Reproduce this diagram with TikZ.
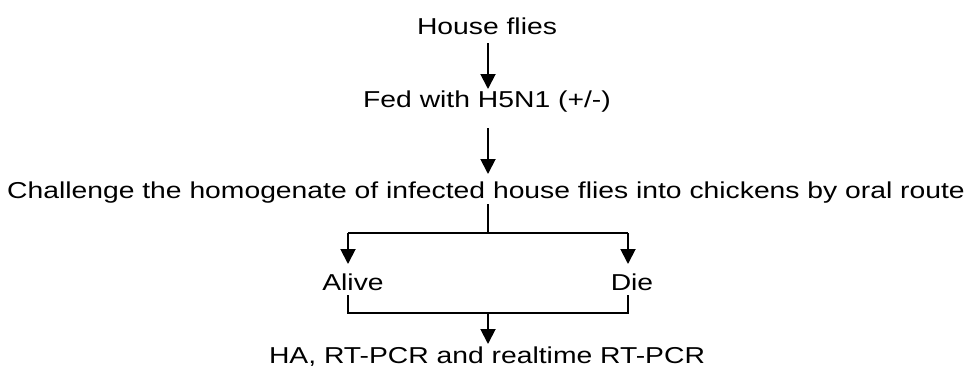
\documentclass[tikz,border=0pt]{standalone}
\usepackage{fontspec}
\setmainfont{Liberation Sans}
\usetikzlibrary{arrows.meta}
\tikzset{
	lbl/.style={inner sep=0pt, xscale=1.23, transform shape, font=\fontsize{23}{27}\selectfont},
	arr/.style={line width=1.9pt, -{Triangle[width=15pt,length=15pt]}},
	ln/.style={line width=1.9pt}
}
\begin{document}
\begin{tikzpicture}[x=1pt,y=-1pt]
	\useasboundingbox (0,0) rectangle (970,381);

	\node[lbl] (flies) at (487,26) {House flies};
	\node[lbl] (fed) at (487,102) {Fed with H5N1 (+/-)};
	\node[lbl] (chal) at (486,193) {Challenge the homogenate of infected house flies into chickens by oral route};
	\node[lbl] (alive) at (353,282) {Alive};
	\node[lbl] (die) at (632,282) {Die};
	\node[lbl] (test) at (487,357) {HA, RT-PCR and realtime RT-PCR};

	% Verzweigung
	\coordinate (split) at (488,233);
	\coordinate (splitL) at (348,233);
	\coordinate (splitR) at (628,233);
	\coordinate (aL) at (348,264);
	\coordinate (aR) at (628,264);
	\coordinate (jL) at (348,295);
	\coordinate (jR) at (628,295);
	\coordinate (joinL) at (348,313);
	\coordinate (joinR) at (628,313);
	\coordinate (join) at (488,313);
	\coordinate (end) at (488,344);

	\draw[arr] (488,43) -- (488,89);
	\draw[arr] (488,128) -- (488,174);
	\draw[ln] (488,204) -- (split);
	\draw[ln] (splitL) -- (splitR);
	\draw[arr] (splitL) -- (aL);
	\draw[arr] (splitR) -- (aR);
	\draw[ln] (jL) -- (joinL) -- (joinR) -- (jR);
	\draw[arr] (join) -- (end);

\end{tikzpicture}
\end{document}
